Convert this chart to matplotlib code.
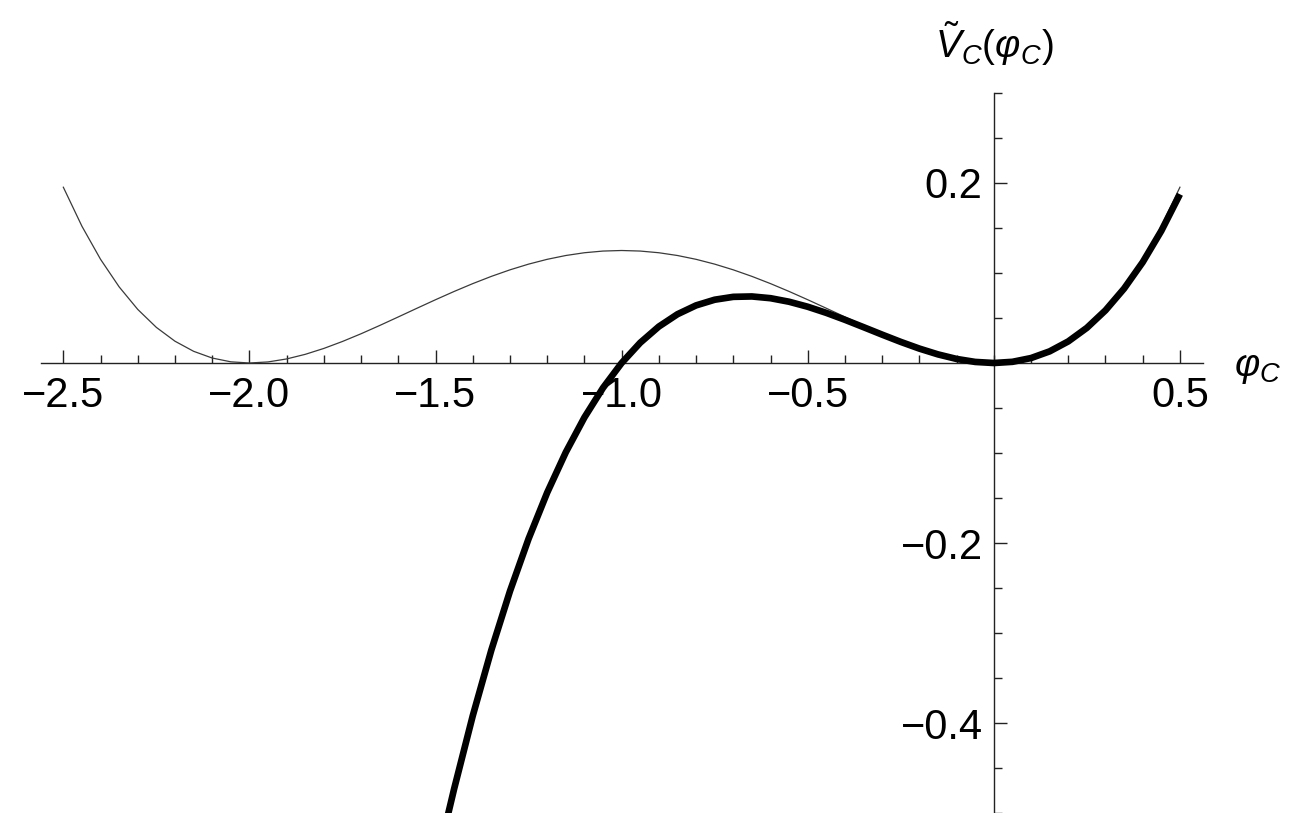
import matplotlib.pyplot as plt
from matplotlib.ticker import FixedLocator, MultipleLocator, FuncFormatter

plt.rcParams["font.family"] = ["Liberation Sans", "DejaVu Sans"]
plt.rcParams["mathtext.fontset"] = "custom"
plt.rcParams["mathtext.rm"] = "Liberation Sans"
plt.rcParams["mathtext.it"] = "Liberation Sans:italic"

# double-well potential (thin line), sampled every 0.05
phi_thin = [-2.5, -2.45, -2.4, -2.35, -2.3, -2.25, -2.2, -2.15, -2.1, -2.05,
            -2.0, -1.95, -1.9, -1.85, -1.8, -1.75, -1.7, -1.65, -1.6, -1.55,
            -1.5, -1.45, -1.4, -1.35, -1.3, -1.25, -1.2, -1.15, -1.1, -1.05,
            -1.0, -0.95, -0.9, -0.85, -0.8, -0.75, -0.7, -0.65, -0.6, -0.55,
            -0.5, -0.45, -0.4, -0.35, -0.3, -0.25, -0.2, -0.15, -0.1, -0.05,
            0.0, 0.05, 0.1, 0.15, 0.2, 0.25, 0.3, 0.35, 0.4, 0.45, 0.5]
v_thin = [0.19531, 0.15194, 0.1152, 0.08456, 0.05951, 0.03955, 0.0242, 0.013,
          0.00551, 0.00131, 0.0, 0.00119, 0.00451, 0.00963, 0.0162, 0.02393,
          0.03251, 0.04169, 0.0512, 0.06081, 0.07031, 0.0795, 0.0882, 0.09625,
          0.10351, 0.10986, 0.1152, 0.11944, 0.12251, 0.12438, 0.125,
          0.12438, 0.12251, 0.11944, 0.1152, 0.10986, 0.10351, 0.09625, 0.0882,
          0.0795, 0.07031, 0.06081, 0.0512, 0.04169, 0.03251, 0.02393, 0.0162,
          0.00963, 0.00451, 0.00119, 0.0, 0.00131, 0.00551, 0.013, 0.0242,
          0.03955, 0.05951, 0.08456, 0.1152, 0.15194, 0.19531]

# cubic potential (thick line)
phi_thick = [-1.47, -1.45, -1.4, -1.35, -1.3, -1.25, -1.2, -1.15, -1.1, -1.05,
             -1.0, -0.95, -0.9, -0.85, -0.8, -0.75, -0.7, -0.65, -0.6, -0.55,
             -0.5, -0.45, -0.4, -0.35, -0.3, -0.25, -0.2, -0.15, -0.1, -0.05,
             0.0, 0.05, 0.1, 0.15, 0.2, 0.25, 0.3, 0.35, 0.4, 0.45, 0.5]
v_thick = [-0.5078, -0.4731, -0.392, -0.3189, -0.2535, -0.1953, -0.144, -0.0992,
           -0.0605, -0.0276, 0.0, 0.02256, 0.0405, 0.05419, 0.064, 0.07031,
           0.0735, 0.07394, 0.072, 0.06806, 0.0625, 0.05569, 0.048, 0.03981,
           0.0315, 0.02344, 0.016, 0.00956, 0.0045, 0.00119, 0.0, 0.00131,
           0.0055, 0.01294, 0.024, 0.03906, 0.0585, 0.08269, 0.112, 0.14681,
           0.1875]

x_major = [-2.5, -2.0, -1.5, -1.0, -0.5, 0.5]
y_major = [-0.4, -0.2, 0.2]

fig = plt.figure(figsize=(13.02, 8.13), dpi=100)
ax = fig.add_axes([41 / 1302, 0.0, 1162 / 1302, 720 / 813])

ax.plot(phi_thin, v_thin, color="#3a3a3a", lw=0.9, zorder=3)
ax.plot(phi_thick, v_thick, color="black", lw=4.8, zorder=4,
        solid_capstyle="butt", solid_joinstyle="round")

ax.set_xlim(-2.56, 0.562)
ax.set_ylim(-0.5, 0.3)

for side in ("top", "right"):
    ax.spines[side].set_visible(False)
ax.spines["left"].set_position(("data", 0))
ax.spines["bottom"].set_position(("data", 0))
for side in ("left", "bottom"):
    ax.spines[side].set_linewidth(1.0)
    ax.spines[side].set_color("#222222")

ax.xaxis.set_major_locator(FixedLocator(x_major))
ax.xaxis.set_minor_locator(MultipleLocator(0.1))
ax.yaxis.set_major_locator(FixedLocator(y_major))
ax.yaxis.set_minor_locator(MultipleLocator(0.05))
fmt = FuncFormatter(lambda v, _: f"{v:.1f}".replace("-", "\u2212"))
ax.xaxis.set_major_formatter(fmt)
ax.yaxis.set_major_formatter(fmt)

ax.tick_params(which="both", direction="in", color="#222222", width=1.0,
               labelsize=30)
ax.tick_params(axis="x", which="major", length=9.5, pad=9)
ax.tick_params(axis="x", which="minor", length=5.5)
ax.tick_params(axis="y", which="major", length=9.5, pad=8)
ax.tick_params(axis="y", which="minor", length=5.5)

ax.text(1.027, -0.006, r"$\varphi_C$", transform=ax.get_yaxis_transform(),
        fontsize=28, ha="left", va="center")
ax.text(0.0, 1.035, r"$\tilde{V}_C(\varphi_C)$", transform=ax.get_xaxis_transform(),
        fontsize=28, ha="center", va="bottom")

fig.savefig("out.png", dpi=100)
